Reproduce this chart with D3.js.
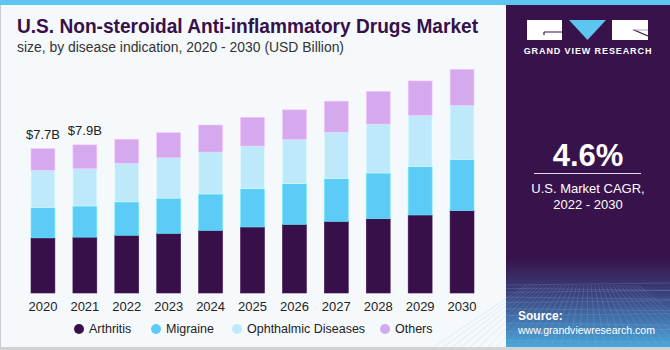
<!DOCTYPE html>
<html>
<head>
<meta charset="utf-8">
<script src="https://cdn.jsdelivr.net/npm/d3@7"></script>
<style>
  html, body { margin: 0; padding: 0; background: #f5f9fc; }
  svg { display: block; font-family: "Liberation Sans", Arial, sans-serif; }
</style>
</head>
<body>
<svg id="chart" width="670" height="350"></svg>
<script>
// stacked bars — U.S. NSAID market by disease indication
const YEARS = ['2020','2021','2022','2023','2024','2025','2026','2027','2028','2029','2030'];
const ARTHRITIS  = [2.94, 2.98, 3.08, 3.18, 3.34, 3.52, 3.66, 3.82, 3.96, 4.16, 4.39];
const MIGRAINE   = [1.63, 1.66, 1.78, 1.88, 1.94, 2.04, 2.17, 2.29, 2.44, 2.58, 2.74];
const OPHTHALMIC = [1.97, 1.99, 2.06, 2.15, 2.24, 2.28, 2.36, 2.47, 2.61, 2.74, 2.88];
const OTHERS     = [1.16, 1.27, 1.28, 1.34, 1.44, 1.53, 1.58, 1.65, 1.74, 1.83, 1.92];
const TOTAL_LABELS = ['$7.7B', '$7.9B'];

const SERIES = [
    { key: 'arthritis',  label: 'Arthritis',           color: '#37104a', values: ARTHRITIS },
    { key: 'migraine',   label: 'Migraine',            color: '#5ccbf6', values: MIGRAINE },
    { key: 'ophthalmic', label: 'Ophthalmic Diseases', color: '#bde9fa', values: OPHTHALMIC },
    { key: 'others',     label: 'Others',              color: '#d5a9ed', values: OTHERS },
];

const W = 670, H = 350;
const svg = d3.select('#chart');

// ── Background & frame ───────────────────────────────────────────────────
svg.append('rect').attr('width', W).attr('height', H).attr('fill', '#f5f9fc');
svg.append('rect').attr('x', 0).attr('y', 0).attr('width', 1).attr('height', H).attr('fill', '#c9ccd0');
svg.append('rect').attr('x', 0).attr('y', H - 3).attr('width', W).attr('height', 3).attr('fill', '#d0d2d4');
svg.append('rect').attr('x', 0).attr('y', 0).attr('width', W).attr('height', 5).attr('fill', '#5cc6ee');

// ── Title ────────────────────────────────────────────────────────────────
svg.append('text')
    .attr('x', 17).attr('y', 33)
    .attr('fill', '#37104a').attr('font-size', '19.5px').attr('font-weight', 'bold')
    .attr('textLength', 461).attr('lengthAdjust', 'spacingAndGlyphs')
    .text('U.S. Non-steroidal Anti-inflammatory Drugs Market');
svg.append('text')
    .attr('x', 17).attr('y', 52)
    .attr('fill', '#333').attr('font-size', '14px')
    .attr('textLength', 327).attr('lengthAdjust', 'spacingAndGlyphs')
    .text('size, by disease indication, 2020 - 2030 (USD Billion)');

// ── Bars ─────────────────────────────────────────────────────────────────
const rows = YEARS.map((y, i) => {
    const r = { year: y };
    SERIES.forEach(s => { r[s.key] = s.values[i]; });
    return r;
});
const stack = d3.stack().keys(SERIES.map(s => s.key))(rows);

const x = d3.scaleBand().domain(YEARS).range([22, 483]).paddingInner(0.43).paddingOuter(0.215);
const y = d3.scaleLinear().domain([0, 12]).range([293, 68]);

const g = svg.append('g');
stack.forEach((layer, li) => {
    g.selectAll(null)
        .data(layer)
        .join('rect')
        .attr('x', d => x(d.data.year))
        .attr('y', d => y(d[1]))
        .attr('width', x.bandwidth())
        .attr('height', d => y(d[0]) - y(d[1]))
        .attr('fill', SERIES[li].color)
        .attr('stroke', d3.color(SERIES[li].color).brighter(0.4))
        .attr('stroke-width', 0.6);
});

// total labels on first two bars
TOTAL_LABELS.forEach((t, i) => {
    const top = stack[stack.length - 1][i][1];
    svg.append('text')
        .attr('x', x(YEARS[i]) + x.bandwidth() / 2)
        .attr('y', y(top) - 10)
        .attr('text-anchor', 'middle')
        .attr('fill', '#222').attr('font-size', '13px')
        .text(t);
});

// x axis labels
const xAxis = svg.append('g')
    .attr('transform', 'translate(0,293)')
    .call(d3.axisBottom(x).tickSize(0).tickPadding(9));
xAxis.select('.domain').remove();
xAxis.selectAll('text')
    .attr('fill', '#222').attr('font-size', '13px')
    .attr('font-family', '"Liberation Sans", Arial, sans-serif');

// ── Legend ───────────────────────────────────────────────────────────────
const LEGEND_X = [79, 156, 237, 385];
const lg = svg.append('g');
SERIES.forEach((s, i) => {
    lg.append('circle').attr('cx', LEGEND_X[i]).attr('cy', 329).attr('r', 5).attr('fill', s.color);
    lg.append('text').attr('x', LEGEND_X[i] + 10).attr('y', 333)
        .attr('fill', '#222').attr('font-size', '12.5px').text(s.label);
});

// ── Right panel ──────────────────────────────────────────────────────────
const PX = 506, PW = W - PX;
const defs = svg.append('defs');
const grad = defs.append('linearGradient').attr('id', 'panel-grad')
    .attr('x1', 0).attr('y1', 0).attr('x2', 0).attr('y2', 1);
grad.append('stop').attr('offset', '0%').attr('stop-color', '#38124a');
grad.append('stop').attr('offset', '74%').attr('stop-color', '#38124a');
grad.append('stop').attr('offset', '84%').attr('stop-color', '#3b3f7a');
grad.append('stop').attr('offset', '100%').attr('stop-color', '#4aa6dc');

svg.append('rect').attr('x', PX).attr('y', 5).attr('width', PW).attr('height', H - 8)
    .attr('fill', 'url(#panel-grad)');

// faint grid in lower panel
const grid = svg.append('g').attr('stroke', '#8fb6e0').attr('stroke-opacity', 0.35).attr('stroke-width', 0.6);
d3.range(0, 14).forEach(i => {
    const yy = 285 + i * i * 0.35 + i * 3;
    if (yy < H - 3) grid.append('line').attr('x1', PX).attr('x2', W).attr('y1', yy).attr('y2', yy + (i % 2 ? 2 : -2));
});
d3.range(-8, 24).forEach(i => {
    const xb = PX + i * 9;
    grid.append('line').attr('x1', PX + PW / 2 + (xb - PX - PW / 2) * 0.4).attr('y1', 285)
        .attr('x2', xb).attr('y2', H - 3);
});

// logo blocks
const logo = svg.append('g');
logo.append('rect').attr('x', 527).attr('y', 20).attr('width', 35).attr('height', 20).attr('fill', '#fff');
logo.append('path').attr('d', 'M569,20 L606,20 L587.5,40 Z').attr('fill', '#5cc6ee');
logo.append('rect').attr('x', 612).attr('y', 20).attr('width', 36).attr('height', 20).attr('fill', '#fff');
logo.append('path').attr('d', 'M544,32 L562,32 M544,32 L544,35').attr('stroke', '#38124a').attr('stroke-width', 1.2).attr('fill', 'none');
logo.append('path').attr('d', 'M634,30 L648,36').attr('stroke', '#38124a').attr('stroke-width', 1.2);
logo.append('path').attr('d', 'M632,30 L648,30').attr('stroke', '#9a8fb0').attr('stroke-width', 0.8);
svg.append('text').attr('x', 588).attr('y', 54).attr('text-anchor', 'middle')
    .attr('fill', '#fff').attr('font-size', '9px').attr('font-weight', 'bold')
    .attr('letter-spacing', '0.9px').text('GRAND VIEW RESEARCH');

// CAGR
svg.append('text').attr('x', 588).attr('y', 166).attr('text-anchor', 'middle')
    .attr('fill', '#fff').attr('font-size', '31px').attr('font-weight', 'bold').text('4.6%');
svg.append('line').attr('x1', 534).attr('x2', 641).attr('y1', 173.5).attr('y2', 173.5)
    .attr('stroke', '#e6e0ee').attr('stroke-width', 1.2);
svg.append('text').attr('x', 588).attr('y', 193).attr('text-anchor', 'middle')
    .attr('fill', '#fff').attr('font-size', '13px').text('U.S. Market CAGR,');
svg.append('text').attr('x', 588).attr('y', 209).attr('text-anchor', 'middle')
    .attr('fill', '#fff').attr('font-size', '13px').text('2022 - 2030');

// source
svg.append('text').attr('x', 518).attr('y', 320)
    .attr('fill', '#fff').attr('font-size', '12px').attr('font-weight', 'bold').text('Source:');
svg.append('text').attr('x', 518).attr('y', 334)
    .attr('fill', '#fff').attr('font-size', '11.5px')
    .attr('textLength', 137).attr('lengthAdjust', 'spacingAndGlyphs')
    .text('www.grandviewresearch.com');
</script>
</body>
</html>
